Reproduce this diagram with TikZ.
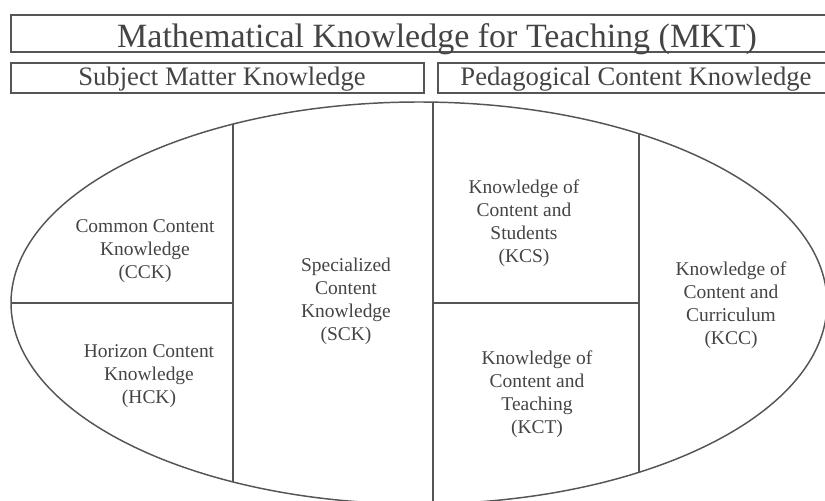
\documentclass[tikz,border=0pt]{standalone}
\usepackage{fontspec}
\setmainfont{Liberation Serif}
\definecolor{linec}{HTML}{555555}
\definecolor{textc}{HTML}{444444}
\tikzset{
  boxline/.style={draw=linec, line width=1.1pt},
  titletext/.style={text=textc, font=\fontsize{25.5}{29}\selectfont, anchor=base, inner sep=0pt},
  subtext/.style={text=textc, font=\fontsize{20}{24}\selectfont, anchor=base, inner sep=0pt},
  celltext/.style={text=textc, font=\fontsize{14.6}{17.3}\selectfont, align=center, inner sep=0pt}
}
\begin{document}
\begin{tikzpicture}[x=0.75pt,y=-0.75pt]
\useasboundingbox (0,0) rectangle (825,500);
\clip (0,0) rectangle (825,500);
% header boxes
\draw[boxline] (11,15) rectangle (840,52);
\draw[boxline] (11,63) rectangle (424,93);
\draw[boxline] (438,63) rectangle (840,93);
\node[titletext] (mkt) at (437,47) {Mathematical Knowledge for Teaching (MKT)};
\node[subtext] (smk) at (222,85) {Subject Matter Knowledge};
\node[subtext] (pck) at (636,85) {Pedagogical Content Knowledge};
% ellipse and divisions
\begin{scope}
  \clip (419,303) ellipse [x radius=408, y radius=201];
  \draw[boxline] (233,0) -- (233,520);
  \draw[boxline] (433,0) -- (433,520);
  \draw[boxline] (639,0) -- (639,520);
  \draw[boxline] (0,303) -- (233,303);
  \draw[boxline] (433,303) -- (639,303);
\end{scope}
\draw[boxline] (419,303) ellipse [x radius=408, y radius=201];
% cell texts
\node[celltext] (cck) at (145,251) {Common Content\\Knowledge\\(CCK)};
\node[celltext] (hck) at (149,376) {Horizon Content\\Knowledge\\(HCK)};
\node[celltext] (sck) at (346,301) {Specialized\\Content\\Knowledge\\(SCK)};
\node[celltext] (kcs) at (524,223) {Knowledge of\\Content and\\Students\\(KCS)};
\node[celltext] (kct) at (537,394) {Knowledge of\\Content and\\Teaching\\(KCT)};
\node[celltext] (kcc) at (731,305) {Knowledge of\\Content and\\Curriculum\\(KCC)};
\end{tikzpicture}
\end{document}
